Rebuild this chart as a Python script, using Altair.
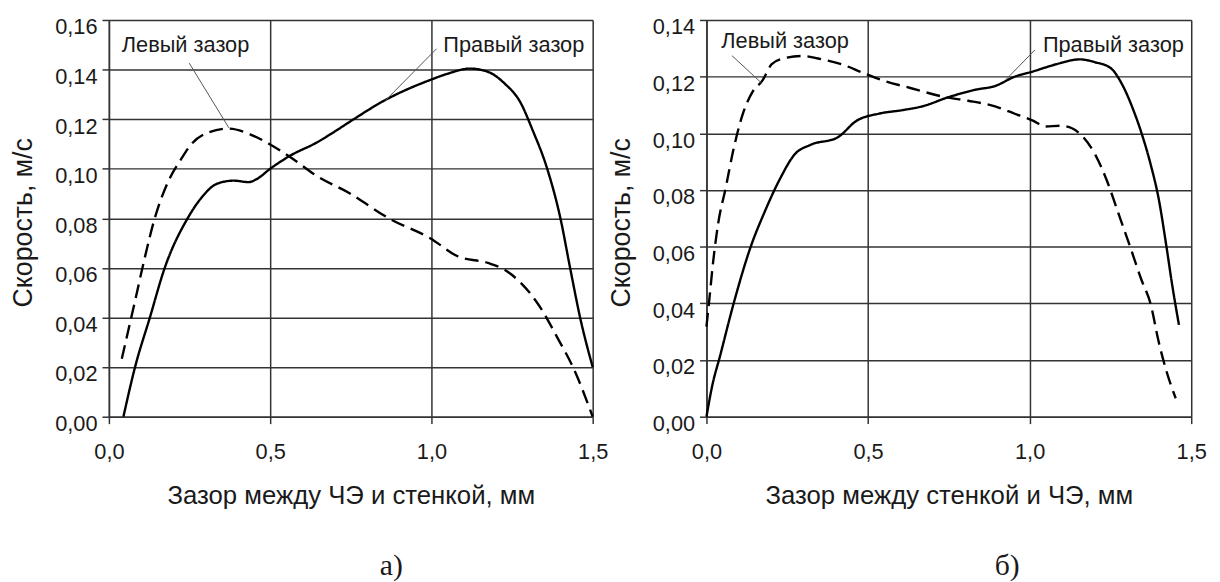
import altair as alt
import pandas as pd

LEFT = "Левый зазор"
RIGHT = "Правый зазор"

# ---------- panel a) ----------
a_left_x = [0.040, 0.081, 0.111, 0.142, 0.183, 0.224, 0.255, 0.306, 0.372, 0.439, 0.500, 0.571,
            0.643, 0.745, 0.868, 0.996, 1.083, 1.175, 1.226, 1.277, 1.338, 1.390, 1.441, 1.500]
a_left_y = [0.0234, 0.0467, 0.0640, 0.0800, 0.0946, 0.1039, 0.1098, 0.1145, 0.1162, 0.1138, 0.1098, 0.1039,
            0.0972, 0.0902, 0.0800, 0.0720, 0.0646, 0.0620, 0.0593, 0.0540, 0.0440, 0.0320, 0.0194, 0.0000]

a_right_x = [0.045, 0.081, 0.127, 0.173, 0.244, 0.285, 0.336, 0.387, 0.434, 0.459, 0.500, 0.561, 0.643, 0.694,
             0.745, 0.858, 0.996, 1.052, 1.119, 1.175, 1.226, 1.277, 1.313, 1.359, 1.400, 1.430, 1.461, 1.500]
a_right_y = [0.0000, 0.0200, 0.0400, 0.0600, 0.0800, 0.0880, 0.0940, 0.0952, 0.0946, 0.0959, 0.1000, 0.1052, 0.1105, 0.1145,
             0.1188, 0.1278, 0.1358, 0.1384, 0.1404, 0.1391, 0.1345, 0.1265, 0.1158, 0.1000, 0.0800, 0.0600, 0.0400, 0.0200]

a_label_x = [0.040, 1.037]
a_label_y = [0.1497, 0.1497]
a_lead_x = [0.249, 1.016]
a_lead_y = [0.1426, 0.1484]
a_lead_x2 = [0.372, 0.858]
a_lead_y2 = [0.1165, 0.1276]

# ---------- panel б) ----------
b_left_x = [0.000, 0.0095, 0.021, 0.036, 0.060, 0.083, 0.113, 0.143, 0.173, 0.202, 0.238, 0.298, 0.345, 0.417,
            0.488, 0.548, 0.631, 0.738, 0.810, 0.893, 0.952, 1.012, 1.048, 1.095, 1.131, 1.167, 1.202, 1.238,
            1.274, 1.310, 1.345, 1.375, 1.399, 1.423, 1.452]
b_left_y = [0.0318, 0.0421, 0.0550, 0.0680, 0.0810, 0.0940, 0.1070, 0.1147, 0.1186, 0.1244, 0.1264, 0.1273, 0.1264, 0.1244,
            0.1212, 0.1186, 0.1160, 0.1128, 0.1115, 0.1095, 0.1070, 0.1044, 0.1024, 0.1027, 0.1018, 0.0985, 0.0927, 0.0836,
            0.0720, 0.0603, 0.0486, 0.0395, 0.0266, 0.0162, 0.0065]

b_right_x = [0.000, 0.018, 0.042, 0.083, 0.137, 0.179, 0.226, 0.274, 0.321, 0.405, 0.464, 0.536, 0.607, 0.667,
             0.750, 0.833, 0.893, 0.952, 1.012, 1.083, 1.155, 1.202, 1.250, 1.286, 1.321, 1.345, 1.375, 1.399,
             1.423, 1.440, 1.462]
b_right_y = [0.0000, 0.0110, 0.0214, 0.0395, 0.0600, 0.0720, 0.0836, 0.0927, 0.0959, 0.0985, 0.1044, 0.1070, 0.1082, 0.1095,
             0.1128, 0.1154, 0.1167, 0.1199, 0.1219, 0.1244, 0.1261, 0.1251, 0.1231, 0.1173, 0.1082, 0.1005, 0.0888, 0.0771,
             0.0603, 0.0473, 0.0324]

b_label_x = [0.046, 1.041]
b_label_y = [0.1327, 0.1313]
b_lead_x = [0.079, 1.016]
b_lead_y = [0.1274, 0.1294]
b_lead_x2 = [0.171, 0.927]
b_lead_y2 = [0.1177, 0.1190]

x_ticks = [0.0, 0.5, 1.0, 1.5]
a_y_ticks = [0.00, 0.02, 0.04, 0.06, 0.08, 0.10, 0.12, 0.14, 0.16]
b_y_ticks = [0.00, 0.02, 0.04, 0.06, 0.08, 0.10, 0.12, 0.14]

TXT = "#1a1a1a"
GRID = "#333333"
SANS = "Liberation Sans"
H = 401


def panel(lx, ly, rx, ry, labx, laby, ldx, ldy, ldx2, ldy2, ymax, yticks, xtitle, caption, cap_dx, width):
    curves = pd.DataFrame(
        {"x": lx + rx, "y": ly + ry, "series": [LEFT] * len(lx) + [RIGHT] * len(rx)}
    )
    labels = pd.DataFrame({"x": labx, "y": laby, "t": [LEFT, RIGHT]})
    leads = pd.DataFrame({"x": ldx, "y": ldy, "x2": ldx2, "y2": ldy2})

    xs = alt.Scale(domain=[0, 1.5], nice=False, zero=False)
    ys = alt.Scale(domain=[0, ymax], nice=False)

    xax = alt.Axis(
        values=x_ticks, labelExpr="replace(format(datum.value, '.1f'), '.', ',')",
        grid=True, gridColor=GRID, gridWidth=1.5, gridOpacity=1,
        domainColor=GRID, domainWidth=1.5, tickColor=GRID, tickWidth=1.5, tickSize=7,
        labelFont=SANS, labelFontSize=22, labelColor=TXT, labelPadding=18, labelFlush=False,
        title=xtitle, titleFont=SANS, titleFontSize=26, titleFontWeight="normal", titleColor=TXT,
        titleX=width / 2, titleY=80, titleBaseline="middle", titleAlign="center",
    )
    yax = alt.Axis(
        values=yticks, labelExpr="replace(format(datum.value, '.2f'), '.', ',')",
        grid=True, gridColor=GRID, gridWidth=1.5, gridOpacity=1,
        domainColor=GRID, domainWidth=1.5, tickColor=GRID, tickWidth=1.5, tickSize=7,
        labelFont=SANS, labelFontSize=22, labelColor=TXT, labelPadding=5, labelOffset=7, labelFlush=False,
        title="Скорость, м/с", titleFont=SANS, titleFontSize=27, titleFontWeight="normal", titleColor=TXT,
        titleX=-86, titleY=H / 2 + 4, titleBaseline="middle", titleAlign="center", titleAngle=270,
    )

    lines = alt.Chart(curves).mark_line(interpolate="monotone", strokeWidth=2.4, color="black").encode(
        x=alt.X("x:Q", scale=xs, axis=xax),
        y=alt.Y("y:Q", scale=ys, axis=yax),
        strokeDash=alt.StrokeDash("series:N", scale=alt.Scale(domain=[LEFT, RIGHT], range=[[14, 7], [1, 0]]), legend=None),
        detail="series:N",
    )
    rules = alt.Chart(leads).mark_rule(color="#555555", strokeWidth=1).encode(
        x="x:Q", y="y:Q", x2="x2:Q", y2="y2:Q"
    )
    texts = alt.Chart(labels).mark_text(align="left", baseline="middle", font=SANS, fontSize=22, color=TXT).encode(
        x="x:Q", y="y:Q", text="t:N"
    )
    return alt.layer(lines, rules, texts).properties(
        width=width, height=H,
        title=alt.TitleParams(text=caption, orient="bottom", anchor="middle", frame="group",
                              font="Liberation Serif", fontSize=30, fontWeight="normal", color=TXT,
                              offset=43, dx=cap_dx),
    )


pa = panel(a_left_x, a_left_y, a_right_x, a_right_y, a_label_x, a_label_y,
           a_lead_x, a_lead_y, a_lead_x2, a_lead_y2, 0.16, a_y_ticks,
           "Зазор между ЧЭ и стенкой, мм", "а)", 41, 489)
pb = panel(b_left_x, b_left_y, b_right_x, b_right_y, b_label_x, b_label_y,
           b_lead_x, b_lead_y, b_lead_x2, b_lead_y2, 0.14, b_y_ticks,
           "Зазор между стенкой и ЧЭ, мм", "б)", 59, 490)

chart = alt.hconcat(pa, pb, spacing=115, bounds="flush").properties(
    padding={"left": 1, "top": 4, "right": 5, "bottom": 0}
).configure_view(stroke=GRID, strokeWidth=1.5).configure(background="white")

chart.save("out.html", embed_options={"renderer": "svg", "actions": False})
